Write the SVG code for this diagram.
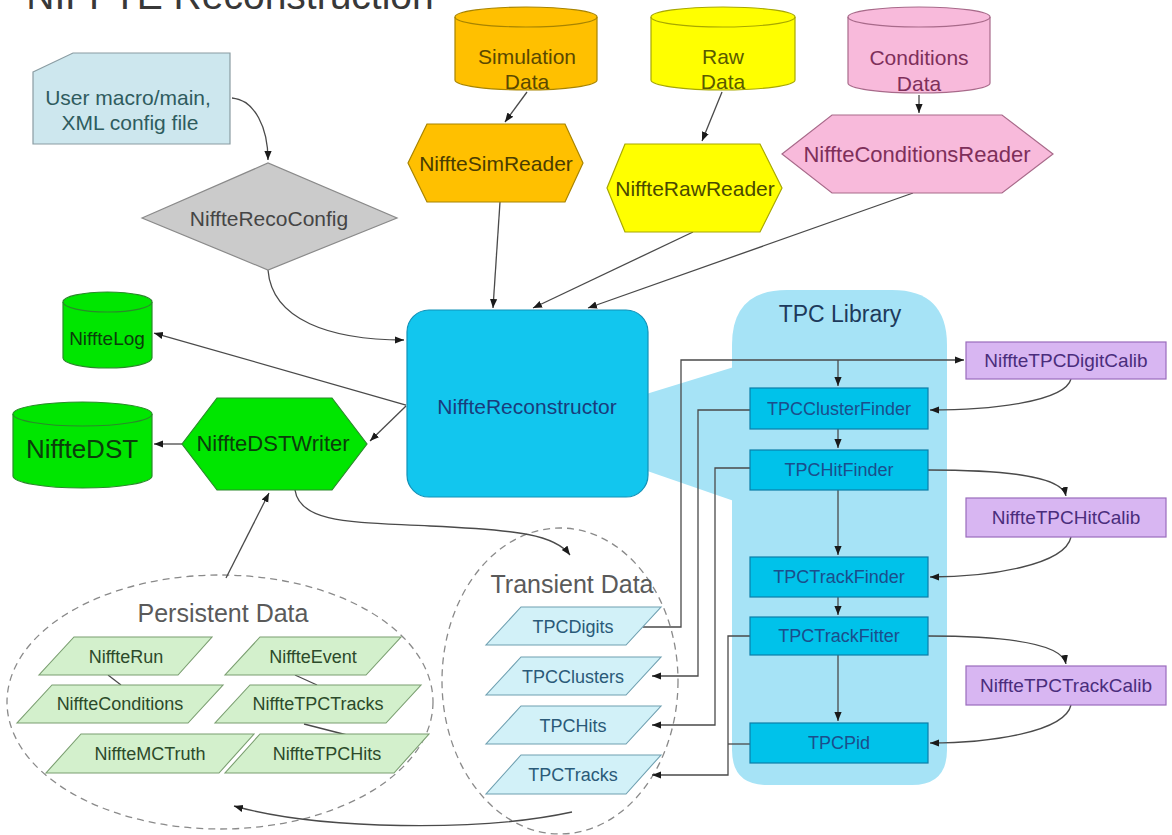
<svg xmlns="http://www.w3.org/2000/svg" width="1172" height="835" viewBox="0 0 1172 835">
<defs>
<marker id="arr" viewBox="0 0 10 10" refX="10" refY="5" markerWidth="9" markerHeight="9" markerUnits="userSpaceOnUse" orient="auto"><path d="M0,1 L10,5 L0,9 z" fill="#1a1a1a"/></marker>
</defs>
<style>
text{font-family:"Liberation Sans",Arial,sans-serif;text-anchor:middle}
.ln{fill:none;stroke:#4a4a4a;stroke-width:1.3}
.la{fill:none;stroke:#4a4a4a;stroke-width:1.3;marker-end:url(#arr)}
.green{fill:#00e600;stroke:#2a8a2a;stroke-width:1.2}
.gtxt{fill:#0b3d0b}
.tpc{fill:#00c2ea;stroke:#0b7ea8;stroke-width:1.2}
.ttxt{fill:#1b4e8c;font-size:18px}
.cal{fill:#d8b6f2;stroke:#9a6cbc;stroke-width:1.2}
.ctxt{fill:#4a2d7c;font-size:19px}
.pers{fill:#d3f0cc;stroke:#7a9e70;stroke-width:1.1}
.ptxt{fill:#2c4a2a;font-size:18px}
.tran{fill:#d2f1f8;stroke:#6e9fb0;stroke-width:1.1}
.trtxt{fill:#2a5a78;font-size:18px}
.grp{fill:none;stroke:#8a8a8a;stroke-width:1.3;stroke-dasharray:7 5}
.gl{fill:#5a5a5a;font-size:25px}
</style>
<rect width="1172" height="835" fill="#ffffff"/>
<text x="230" y="9" font-size="39" fill="#383838">NIFFTE Reconstruction</text>

<g id="tpc-library">
<polygon points="630,399 734,367 734,501 630,465" fill="#a6e3f6"/>
<path d="M732,345 Q732,290 787,290 H892 Q947,290 947,345 V750 Q947,785 912,785 H767 Q732,785 732,750 Z" fill="#a6e3f6"/>
<text x="840" y="322" font-size="23" fill="#1d3a5c">TPC Library</text>
</g>

<g id="persistent-data">
<ellipse cx="220" cy="702" rx="213" ry="127" class="grp"/>
<text x="223" y="622" class="gl">Persistent Data</text>
</g>
<g id="transient-data">
<ellipse cx="560" cy="681" rx="118" ry="153" class="grp"/>
<text x="572" y="593" class="gl">Transient Data</text>
</g>

<g id="connectors">
<path class="la" d="M232,98 C255,100 268,128 268,160"/>
<path class="la" d="M527,92 L505,122"/>
<path class="la" d="M722,92 L702,141"/>
<path class="la" d="M919,95 L919,113"/>
<path class="la" d="M500,202 L493,308"/>
<path class="la" d="M693,232 L533,308"/>
<path class="la" d="M913,193 L588,308"/>
<path class="la" d="M268,270 C272,320 330,340 404,340"/>
<path class="la" d="M406,405 L154,333"/>
<path class="la" d="M406,406 L370,441"/>
<path class="la" d="M182,444 L154,444"/>
<path class="la" d="M226,578 L269,493"/>
<path class="la" d="M295,490 C300,525 360,522 430,526 C520,530 555,535 570,555"/>
<path class="la" d="M572,812 C480,832 320,830 234,806"/>
<path class="la" d="M643,627 H681 V360 H964"/>
<path class="la" d="M838,360 V386"/>
<path class="la" d="M1071,379 C1065,402 990,410 930,410"/>
<path class="la" d="M750,410 H698 V676 H652"/>
<path class="la" d="M838,429 V448"/>
<path class="la" d="M750,468 H715 V725 H652"/>
<path class="la" d="M928,470 C1000,470 1062,475 1066,496"/>
<path class="la" d="M838,490 V555"/>
<path class="la" d="M1071,537 C1065,565 990,577 930,577"/>
<path class="la" d="M838,597 V615"/>
<path class="la" d="M928,636 C1000,636 1062,642 1066,664"/>
<path class="la" d="M838,655 V721"/>
<path class="la" d="M1071,705 C1065,732 990,743 930,743"/>
<path class="la" d="M750,636 H728 V775 H652"/>
<path class="ln" d="M750,744 H728"/>
<path class="ln" d="M108,675 L121,685"/>
<path class="ln" d="M295,675 L317,685"/>
<path class="ln" d="M304,724 L347,735"/>
</g>

<g id="user-macro">
<polygon points="33,72 73,53 230,53 230,144 33,144" fill="#cde7ee" stroke="#8a9ca2" stroke-width="1.2"/>
<text x="128" y="105" font-size="21" fill="#2f5c5e">User macro/main,</text>
<text x="130" y="130" font-size="21" fill="#2f5c5e">XML config file</text>
</g>

<g id="reco-config">
<polygon points="142,218 268,163 397,218 268,270" fill="#cbcbcb" stroke="#8a8a8a" stroke-width="1.2"/>
<text x="269" y="226" font-size="21" fill="#454545">NiffteRecoConfig</text>
</g>

<g id="simulation-data">
<path d="M455,17 A71,10 0 0 1 597,17 V80 A71,10 0 0 1 455,80 Z" fill="#ffc000" stroke="#a88400" stroke-width="1.2"/>
<path d="M455,17 A71,10 0 0 0 597,17" fill="none" stroke="#a88400" stroke-width="1.2"/>
<text x="527" y="64" font-size="21" fill="#5a4800">Simulation</text>
<text x="527" y="89" font-size="21" fill="#5a4800">Data</text>
</g>
<g id="raw-data">
<path d="M651,17 A72,10 0 0 1 795,17 V80 A72,10 0 0 1 651,80 Z" fill="#ffff00" stroke="#a8a800" stroke-width="1.2"/>
<path d="M651,17 A72,10 0 0 0 795,17" fill="none" stroke="#a8a800" stroke-width="1.2"/>
<text x="723" y="64" font-size="21" fill="#5a5a00">Raw</text>
<text x="723" y="89" font-size="21" fill="#5a5a00">Data</text>
</g>
<g id="conditions-data">
<path d="M848,17 A71,10 0 0 1 990,17 V83 A71,10 0 0 1 848,83 Z" fill="#f8badb" stroke="#a86a8a" stroke-width="1.2"/>
<path d="M848,17 A71,10 0 0 0 990,17" fill="none" stroke="#a86a8a" stroke-width="1.2"/>
<text x="919" y="65" font-size="21" fill="#7e2f5a">Conditions</text>
<text x="919" y="91" font-size="21" fill="#7e2f5a">Data</text>
</g>

<g id="sim-reader">
<polygon points="408,163 427,124 565,124 583,163 565,202 427,202" fill="#ffc000" stroke="#a88400" stroke-width="1.2"/>
<text x="496" y="171" font-size="21" fill="#4a3c00">NiffteSimReader</text>
</g>
<g id="raw-reader">
<polygon points="607,188 625,144 760,144 782,188 760,232 625,232" fill="#ffff00" stroke="#a8a800" stroke-width="1.2"/>
<text x="695" y="196" font-size="21" fill="#4a4a00">NiffteRawReader</text>
</g>
<g id="conditions-reader">
<polygon points="782,154 832,115 1002,115 1053,154 1002,193 832,193" fill="#f8badb" stroke="#a86a8a" stroke-width="1.2"/>
<text x="917" y="162" font-size="22" fill="#7e2f5a">NiffteConditionsReader</text>
</g>

<g id="reconstructor">
<rect x="407" y="310" width="241" height="187" rx="22" fill="#12c6ee" stroke="#1192b8" stroke-width="1.2"/>
<text x="527" y="414" font-size="21" fill="#1a3c7c">NiffteReconstructor</text>
</g>

<g id="niffte-log">
<path d="M63,302 A44.5,10 0 0 1 152,302 V358 A44.5,10 0 0 1 63,358 Z" class="green"/>
<path d="M63,302 A44.5,10 0 0 0 152,302" fill="none" stroke="#2a8a2a" stroke-width="1.2"/>
<text x="107" y="345" font-size="19" class="gtxt">NiffteLog</text>
</g>
<g id="niffte-dst">
<path d="M13,414 A69.5,12 0 0 1 152,414 V476 A69.5,12 0 0 1 13,476 Z" class="green"/>
<path d="M13,414 A69.5,12 0 0 0 152,414" fill="none" stroke="#2a8a2a" stroke-width="1.2"/>
<text x="82" y="458" font-size="26" class="gtxt">NiffteDST</text>
</g>
<g id="dst-writer">
<polygon points="182,444 217,398 332,398 367,444 332,490 217,490" class="green"/>
<text x="273" y="451" font-size="22" class="gtxt">NiffteDSTWriter</text>
</g>

<g id="tpc-cluster-finder"><rect x="750" y="388" width="178" height="41" class="tpc"/><text x="839" y="415" class="ttxt">TPCClusterFinder</text></g>
<g id="tpc-hit-finder"><rect x="750" y="450" width="178" height="40" class="tpc"/><text x="839" y="476" class="ttxt">TPCHitFinder</text></g>
<g id="tpc-track-finder"><rect x="750" y="557" width="178" height="40" class="tpc"/><text x="839" y="583" class="ttxt">TPCTrackFinder</text></g>
<g id="tpc-track-fitter"><rect x="750" y="617" width="178" height="38" class="tpc"/><text x="839" y="642" class="ttxt">TPCTrackFitter</text></g>
<g id="tpc-pid"><rect x="750" y="723" width="178" height="40" class="tpc"/><text x="839" y="749" class="ttxt">TPCPid</text></g>

<g id="digit-calib"><rect x="966" y="342" width="200" height="37" class="cal"/><text x="1066" y="367" class="ctxt">NiffteTPCDigitCalib</text></g>
<g id="hit-calib"><rect x="966" y="498" width="200" height="39" class="cal"/><text x="1066" y="524" class="ctxt">NiffteTPCHitCalib</text></g>
<g id="track-calib"><rect x="966" y="666" width="200" height="39" class="cal"/><text x="1066" y="692" class="ctxt">NiffteTPCTrackCalib</text></g>

<g id="tpc-digits"><polygon points="521,607 661,607 626,645 486,645" class="tran"/><text x="573" y="633" class="trtxt">TPCDigits</text></g>
<g id="tpc-clusters"><polygon points="521,657 661,657 626,695 486,695" class="tran"/><text x="573" y="683" class="trtxt">TPCClusters</text></g>
<g id="tpc-hits"><polygon points="521,706 661,706 626,744 486,744" class="tran"/><text x="573" y="732" class="trtxt">TPCHits</text></g>
<g id="tpc-tracks"><polygon points="521,755 661,755 626,794 486,794" class="tran"/><text x="573" y="781" class="trtxt">TPCTracks</text></g>

<g id="niffte-run"><polygon points="74,637 212,637 178,675 39,675" class="pers"/><text x="126" y="663" class="ptxt">NiffteRun</text></g>
<g id="niffte-event"><polygon points="260,637 401,637 366,675 225,675" class="pers"/><text x="313" y="663" class="ptxt">NiffteEvent</text></g>
<g id="niffte-conditions"><polygon points="52,685 223,685 188,723 17,723" class="pers"/><text x="120" y="710" class="ptxt">NiffteConditions</text></g>
<g id="niffte-tpc-tracks"><polygon points="250,685 421,685 386,723 215,723" class="pers"/><text x="318" y="710" class="ptxt">NiffteTPCTracks</text></g>
<g id="niffte-mc-truth"><polygon points="81,734 254,734 219,773 46,773" class="pers"/><text x="150" y="760" class="ptxt">NiffteMCTruth</text></g>
<g id="niffte-tpc-hits"><polygon points="260,734 429,734 394,773 225,773" class="pers"/><text x="327" y="760" class="ptxt">NiffteTPCHits</text></g>
</svg>
